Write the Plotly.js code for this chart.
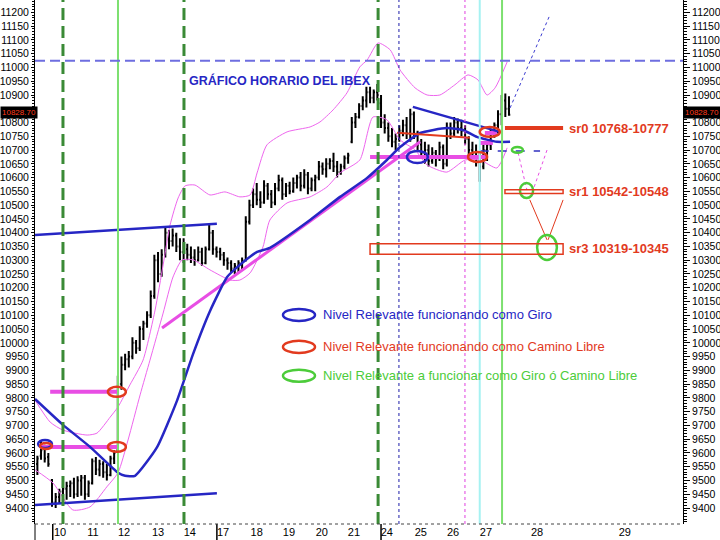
<!DOCTYPE html>
<html>
<head>
<meta charset="utf-8">
<script src="https://cdn.plot.ly/plotly-3.0.1.min.js"></script>
<style>
  html, body { margin: 0; padding: 0; background: #fff; }
  #chart { width: 720px; height: 540px; }
</style>
</head>
<body>
<div id="chart"></div>
<script>
// hourly bars, index 0 = first hour of the 10th (4 bars of the previous friday before it)
var opens = [
    9560, 9590, 9615, 9585,
    9500, 9420, 9440, 9460, 9470, 9480, 9490, 9450, 9500,
    9510, 9450, 9490, 9570, 9540, 9560, 9530, 9520, 9580,
    9610, 9850, 9920, 9940, 9950, 10000, 9980, 10050, 10070,
    10100, 10170, 10300, 10250, 10320, 10400, 10370, 10390, 10350,
    10330, 10340, 10320, 10310, 10300, 10330, 10290, 10340, 10400,
    10340, 10330, 10320, 10300, 10290, 10270, 10280, 10290, 10300,
    10440, 10500, 10540, 10520, 10510, 10570, 10540, 10510, 10560,
    10590, 10540, 10570, 10550, 10580, 10600, 10570, 10610, 10560,
    10590, 10600, 10640, 10630, 10650, 10660, 10640, 10620, 10640,
    10670, 10730, 10800, 10820, 10860, 10880, 10910, 10890, 10910,
    10870, 10800, 10780, 10750, 10730, 10740, 10770, 10790, 10760,
    10830, 10760, 10720, 10690, 10700, 10660, 10690, 10670, 10710,
    10650, 10780, 10760, 10800, 10780, 10770, 10740, 10700, 10690,
    10660, 10640, 10700, 10720, 10760, 10790, 10830, 10880, 10850
];
var highs = [
    9590, 9645, 9630, 9600,
    9505, 9455, 9470, 9490, 9495, 9500, 9510, 9515, 9520,
    9520, 9500, 9580, 9585, 9575, 9570, 9560, 9590, 9610,
    9880, 9950, 9960, 9970, 10020, 10010, 10060, 10080, 10115,
    10190, 10320, 10330, 10340, 10420, 10410, 10415, 10400, 10380,
    10380, 10360, 10350, 10340, 10350, 10345, 10350, 10430, 10410,
    10350, 10345, 10330, 10310, 10300, 10290, 10300, 10310, 10460,
    10520, 10560, 10580, 10550, 10590, 10580, 10555, 10580, 10610,
    10600, 10580, 10585, 10600, 10610, 10620, 10630, 10620, 10600,
    10610, 10660, 10655, 10670, 10670, 10690, 10660, 10650, 10680,
    10690, 10820, 10835, 10870, 10895, 10930, 10930, 10920, 10940,
    10900, 10830, 10800, 10780, 10760, 10790, 10810, 10820, 10850,
    10840, 10770, 10740, 10730, 10720, 10710, 10700, 10730, 10720,
    10800, 10800, 10820, 10815, 10810, 10790, 10750, 10730, 10720,
    10690, 10720, 10730, 10775, 10800, 10845, 10900, 10905, 10895
];
var lows = [
    9520, 9575, 9565, 9550,
    9405, 9400, 9415, 9425, 9430, 9440, 9435, 9440, 9445,
    9430, 9440, 9485, 9520, 9515, 9510, 9500, 9515, 9560,
    9600, 9830, 9900, 9910, 9940, 9960, 9970, 10010, 10055,
    10090, 10160, 10220, 10240, 10310, 10340, 10350, 10330, 10300,
    10290, 10300, 10290, 10280, 10295, 10280, 10285, 10335, 10320,
    10310, 10300, 10280, 10265, 10255, 10250, 10255, 10265, 10295,
    10430, 10490, 10500, 10490, 10505, 10520, 10490, 10500, 10550,
    10520, 10530, 10540, 10545, 10560, 10550, 10560, 10540, 10550,
    10550, 10590, 10610, 10600, 10630, 10620, 10600, 10610, 10630,
    10650, 10725, 10780, 10815, 10845, 10855, 10870, 10870, 10880,
    10780, 10760, 10730, 10710, 10700, 10730, 10750, 10740, 10730,
    10740, 10700, 10670, 10650, 10640, 10650, 10640, 10660, 10630,
    10640, 10740, 10750, 10760, 10750, 10720, 10680, 10670, 10640,
    10585, 10630, 10660, 10700, 10745, 10760, 10790, 10820, 10825
];
var closes = [
    9580, 9610, 9580, 9560,
    9420, 9440, 9460, 9470, 9480, 9490, 9450, 9500, 9510,
    9450, 9490, 9570, 9540, 9560, 9530, 9520, 9580, 9600,
    9850, 9920, 9940, 9950, 10000, 9980, 10050, 10070, 10100,
    10170, 10300, 10250, 10320, 10400, 10370, 10390, 10350, 10330,
    10340, 10320, 10310, 10300, 10330, 10290, 10340, 10400, 10340,
    10330, 10320, 10300, 10290, 10270, 10280, 10290, 10300, 10440,
    10500, 10540, 10520, 10510, 10570, 10540, 10510, 10560, 10590,
    10540, 10570, 10550, 10580, 10600, 10570, 10610, 10560, 10590,
    10600, 10640, 10630, 10650, 10660, 10640, 10620, 10640, 10670,
    10680, 10800, 10820, 10860, 10880, 10910, 10890, 10910, 10900,
    10800, 10780, 10750, 10730, 10740, 10770, 10790, 10760, 10830,
    10760, 10720, 10690, 10700, 10660, 10690, 10670, 10710, 10650,
    10780, 10760, 10800, 10780, 10770, 10740, 10700, 10690, 10660,
    10640, 10700, 10720, 10760, 10790, 10830, 10880, 10850, 10828.70
];
var lastPrice = 10828.70;

// moving average and bands (bar index, price)
var maX = [-4.65, 3.0, 10.4, 18.05, 20, 22.7, 28.7, 34.2, 38.6, 43.2, 47.9, 51.4, 56.1, 59.6, 70.6, 78.8, 86.2, 91.6, 95.2, 100.7, 108, 112.4, 116.2, 121.7, 125.3];
var maY = [9796, 9702, 9622, 9528, 9517, 9517, 9620, 9790, 9960, 10115, 10239, 10283, 10330, 10345, 10446, 10530, 10599, 10664, 10711, 10762, 10780, 10773, 10748, 10730, 10730];

var upX = [-4.65, -0.5, 3.0, 9.6, 12.3, 15.9, 18.05, 21.3, 24.9, 28.2, 30.4, 32.3, 34.5, 36.4, 39.1, 43.2, 47.3, 51.4, 54.2, 56.1, 58.8, 64.3, 70.6, 73.3, 76.9, 80.7, 84.2, 86.2, 89.2, 92.5, 95.2, 99.3, 102.6, 106.1, 110.2, 113.8, 116.5, 119, 121.2, 124.5];
var upY = [9792, 9712, 9683, 9665, 9672, 9730, 9767, 9847, 9937, 10119, 10283, 10428, 10526, 10570, 10573, 10537, 10548, 10530, 10537, 10617, 10719, 10766, 10784, 10802, 10846, 10908, 11002, 11027, 11089, 11064, 10991, 10926, 10900, 10900, 10937, 10973, 10955, 10900, 10926, 11020];

var loX = [-4.65, 0.27, 5.7, 10.4, 15.0, 18.05, 20.8, 24.1, 26.8, 30.4, 33.1, 35.6, 38.6, 43.2, 48.7, 51.4, 54.2, 57.7, 59.6, 64.3, 70.6, 75.2, 78.8, 84.2, 87.8, 91.6, 95.2, 99.3, 102.6, 108.0, 113.0, 117.1, 121.7, 124.5];
var loY = [9539, 9491, 9393, 9404, 9477, 9528, 9647, 9811, 9937, 10108, 10239, 10301, 10301, 10265, 10228, 10228, 10254, 10348, 10446, 10508, 10530, 10566, 10617, 10664, 10820, 10810, 10737, 10701, 10646, 10620, 10664, 10664, 10635, 10708];

// hand drawn lines: [x0, x1, price0, price1]
var blueTrends = [[-4.65, 45.1, 9411, 9454], [-4.65, 45.1, 10392, 10432], [98.7, 122.5, 10857, 10766]];
var pinkTrends = [[30.1, 100.7, 10054, 10730]];
var pinkLevels = [[-3.3, 18.05, 9622, 9622], [-0.5, 18.05, 9822, 9822], [87, 119, 10675, 10675], [117, 120.6, 10726, 10726], [118.4, 121.7, 10762, 10762]];
var redLevels = [[94.4, 114.3, 10763, 10745]];
var blueProjection = [125.3, 136.2, 10853, 11191];
var navyLevel = [117, 133.5, 10697, 10697];
var pinkPaths = [[127.5, 129.9, 10690, 10555], [135.4, 131.6, 10700, 10555]];
var redPaths = [[130.7, 135.4, 10519, 10374], [139.8, 135.7, 10519, 10374]];
var resistance = 11024;

// rings: [x0, x1, price0, price1]
var giroRings = [[-3.8, 0, 9618, 9647], [97.1, 102.8, 10653, 10697]];
var libreRings = [[-3.3, 0, 9614, 9636], [15.3, 20.2, 9604, 9640], [15.3, 20.2, 9804, 9840], [113.8, 119, 10657, 10693], [117, 122.5, 10748, 10784]];
var targetRings = [[125.8, 128.8, 10690, 10711], [128, 131.6, 10526, 10580], [132.7, 138.1, 10301, 10392]];

// support / resistance zones
var srNames = ['sr0 10768-10777', 'sr1 10542-10548', 'sr3 10319-10345'];
var srZones = [[123.9, 139.8, 10778, 10782], [123.9, 139.8, 10542, 10556], [87, 139.8, 10322, 10360]];
var srLabelPrice = [10780, 10549, 10341];

// vertical markers (bar index)
var greenDashed = [3.0, 36.1, 89.2];
var greenSolid = [18.05, 123.1];
var navyDotted = [94.9];
var pinkDotted = [112.96];
var cyanSolid = [117.0];
var weekStarts = [0.2, 45.1, 90.0];

var dayLabels = ['10', '11', '12', '13', '14', '17', '18', '19', '20', '21', '24', '25', '26', '27', '28', '29'];
var dayPos = [2.2, 11.2, 19.7, 29.0, 37.7, 46.8, 56.0, 64.8, 73.8, 82.6, 91.6, 100.9, 109.7, 118.7, 132.7, 156.7];

var legendTexts = ['Nivel Relevante funcionando como Giro', 'Nivel Relevante funcionando como Camino Libre', 'Nivel Relevante a funcionar como Giro ó Camino Libre'];

var FONT = 'Liberation Sans, Arial, sans-serif';
var BLUE = '#2626c4', RED = '#e23a1e', GREEN = '#4ccc3a', PINK = '#e84ee4';

var barX = [];
for (var i = 0; i < opens.length; i++) barX.push(i - 4);

// the last-price box hides the 10850 label, as on the original
var priceTicks = [];
for (var p = 9400; p <= 11200; p += 50) {
    if (Math.abs(p - lastPrice) > 25) priceTicks.push(p);
}

var traces = [];

function seg(s, color, width, dash) {
    traces.push({
        x: [s[0], s[1]], y: [s[2], s[3]],
        mode: 'lines', type: 'scatter', hoverinfo: 'skip',
        line: { color: color, width: width, dash: dash || 'solid' },
    });
}

traces.push({ x: upX, y: upY, mode: 'lines', type: 'scatter', hoverinfo: 'skip', line: { color: '#ee66ee', width: 1, shape: 'spline', smoothing: 0.6 } });
traces.push({ x: loX, y: loY, mode: 'lines', type: 'scatter', hoverinfo: 'skip', line: { color: '#ee66ee', width: 1, shape: 'spline', smoothing: 0.6 } });

pinkTrends.forEach(function (s) { seg(s, PINK, 3); });
pinkLevels.forEach(function (s) { seg(s, PINK, 4); });
traces.push({ x: maX, y: maY, mode: 'lines', type: 'scatter', hoverinfo: 'skip', line: { color: BLUE, width: 2.5, shape: 'spline', smoothing: 0.5 } });
blueTrends.forEach(function (s) { seg(s, BLUE, 2.5); });
redLevels.forEach(function (s) { seg(s, RED, 2); });
seg(blueProjection, '#3a3ad0', 1, 'dot');
seg(navyLevel, '#3030c0', 1.5, 'dash');
pinkPaths.forEach(function (s) { seg(s, PINK, 1, 'dot'); });
redPaths.forEach(function (s) { seg(s, RED, 1); });
seg([srZones[0][0], srZones[0][1], srLabelPrice[0], srLabelPrice[0]], RED, 4);

traces.push({
    type: 'ohlc', x: barX, open: opens, high: highs, low: lows, close: closes,
    increasing: { line: { color: '#000', width: 2 } },
    decreasing: { line: { color: '#000', width: 2 } },
    tickwidth: 0.35, hoverinfo: 'skip',
});
// tiny trace on the right axis so it gets its labels
traces.push({ x: [barX[0]], y: [closes[0]], yaxis: 'y2', mode: 'lines', type: 'scatter', hoverinfo: 'skip', line: { width: 0 } });

var shapes = [];
function vline(x, color, width, dash) {
    shapes.push({ type: 'line', xref: 'x', yref: 'paper', x0: x, x1: x, y0: 0, y1: 1, line: { color: color, width: width, dash: dash || 'solid' } });
}
greenDashed.forEach(function (x) { vline(x, '#3a8a36', 3, '12px,6px'); });
greenSolid.forEach(function (x) { vline(x, '#7de070', 2); });
navyDotted.forEach(function (x) { vline(x, '#1c1ca8', 1, 'dot'); });
pinkDotted.forEach(function (x) { vline(x, '#e040e0', 1, 'dot'); });
cyanSolid.forEach(function (x) { vline(x, '#a6f2f2', 2); });

shapes.push({ type: 'line', xref: 'paper', yref: 'y', x0: 0, x1: 1, y0: resistance, y1: resistance, line: { color: '#6e6ee0', width: 2, dash: '10px,5px' } });

function ring(r, color) {
    shapes.push({ type: 'circle', xref: 'x', yref: 'y', x0: r[0], x1: r[1], y0: r[2], y1: r[3], line: { color: color, width: 2.5 } });
}
giroRings.forEach(function (r) { ring(r, BLUE); });
libreRings.forEach(function (r) { ring(r, RED); });
targetRings.forEach(function (r) { ring(r, GREEN); });

srZones.slice(1).forEach(function (z) {
    shapes.push({ type: 'rect', xref: 'x', yref: 'y', x0: z[0], x1: z[1], y0: z[2], y1: z[3], line: { color: RED, width: 1.5 } });
});

weekStarts.forEach(function (x) {
    shapes.push({ type: 'line', xref: 'x', yref: 'paper', x0: x, x1: x, y0: 0, y1: -0.031, line: { color: '#000', width: 1.5 } });
});
shapes.push({ type: 'line', xref: 'paper', yref: 'paper', x0: 0, x1: 0, y0: 0, y1: -0.031, line: { color: '#000', width: 1 } });
shapes.push({ type: 'line', xref: 'paper', yref: 'paper', x0: 0, x1: 1, y0: 0, y1: 0, line: { color: '#444', width: 1, dash: 'dot' } });

// legend rings
var legendColors = [BLUE, RED, GREEN];
var legendY = [0.399, 0.338, 0.283];
legendColors.forEach(function (c, i) {
    shapes.push({ type: 'circle', xref: 'paper', yref: 'paper', x0: 0.3827, x1: 0.4321, y0: legendY[i] - 0.0115, y1: legendY[i] + 0.0115, line: { color: c, width: 2.5 } });
});

var annotations = [];
annotations.push({ xref: 'paper', yref: 'paper', x: 0.2346, y: 0.8473, xanchor: 'left', yanchor: 'middle', showarrow: false, text: 'GRÁFICO HORARIO DEL IBEX', font: { family: FONT, size: 12.5, color: BLUE, weight: 'bold' } });
legendTexts.forEach(function (t, i) {
    annotations.push({ xref: 'paper', yref: 'paper', x: 0.4414, y: legendY[i], xanchor: 'left', yanchor: 'middle', showarrow: false, text: t, font: { family: FONT, size: 13, color: legendColors[i] } });
});
srNames.forEach(function (t, i) {
    annotations.push({ xref: 'x', yref: 'y', x: 140.9, y: srLabelPrice[i], xanchor: 'left', yanchor: 'middle', showarrow: false, text: t, font: { family: FONT, size: 13, color: RED, weight: 'bold' } });
});
// last price boxes on both sides (left one starts at the page edge)
[-35 / 648, 1].forEach(function (x) {
    annotations.push({
        xref: 'paper', yref: 'y', x: x, y: lastPrice + 8, xanchor: 'left', yanchor: 'middle',
        showarrow: false, text: lastPrice.toFixed(2), bgcolor: '#000', borderpad: 1,
        font: { family: FONT, size: 8, color: '#ff3a1a' },
    });
});

var yBase = {
    range: [9342, 11245], showgrid: false, zeroline: false, fixedrange: true,
    showline: true, linecolor: '#000', linewidth: 1,
    ticks: 'outside', tickcolor: '#000', tickmode: 'array', tickvals: priceTicks,
    tickformat: 'd',
    tickfont: { family: FONT, size: 10.5, color: '#000' },
};

var layout = {
    width: 720, height: 540,
    margin: { l: 35, r: 37, t: 0, b: 16, pad: 0 },
    paper_bgcolor: '#fff', plot_bgcolor: '#fff',
    showlegend: false,
    xaxis: {
        range: [-4.65, 172.6], showgrid: false, zeroline: false, fixedrange: true,
        tickmode: 'array', tickvals: dayPos, ticktext: dayLabels, ticks: '',
        tickfont: { family: FONT, size: 11, color: '#000' },
        rangeslider: { visible: false },
    },
    yaxis: Object.assign({}, yBase, { side: 'left', ticklen: 3, minor: { ticks: 'outside', ticklen: 2, tickcolor: '#000', tickmode: 'linear', tick0: 0, dtick: 10 } }),
    yaxis2: Object.assign({}, yBase, { side: 'right', overlaying: 'y', ticklen: 6, minor: { ticks: 'outside', ticklen: 3, tickcolor: '#000', tickmode: 'linear', tick0: 0, dtick: 10 } }),
    shapes: shapes,
    annotations: annotations,
};

Plotly.newPlot('chart', traces, layout, { staticPlot: true });
</script>
</body>
</html>
